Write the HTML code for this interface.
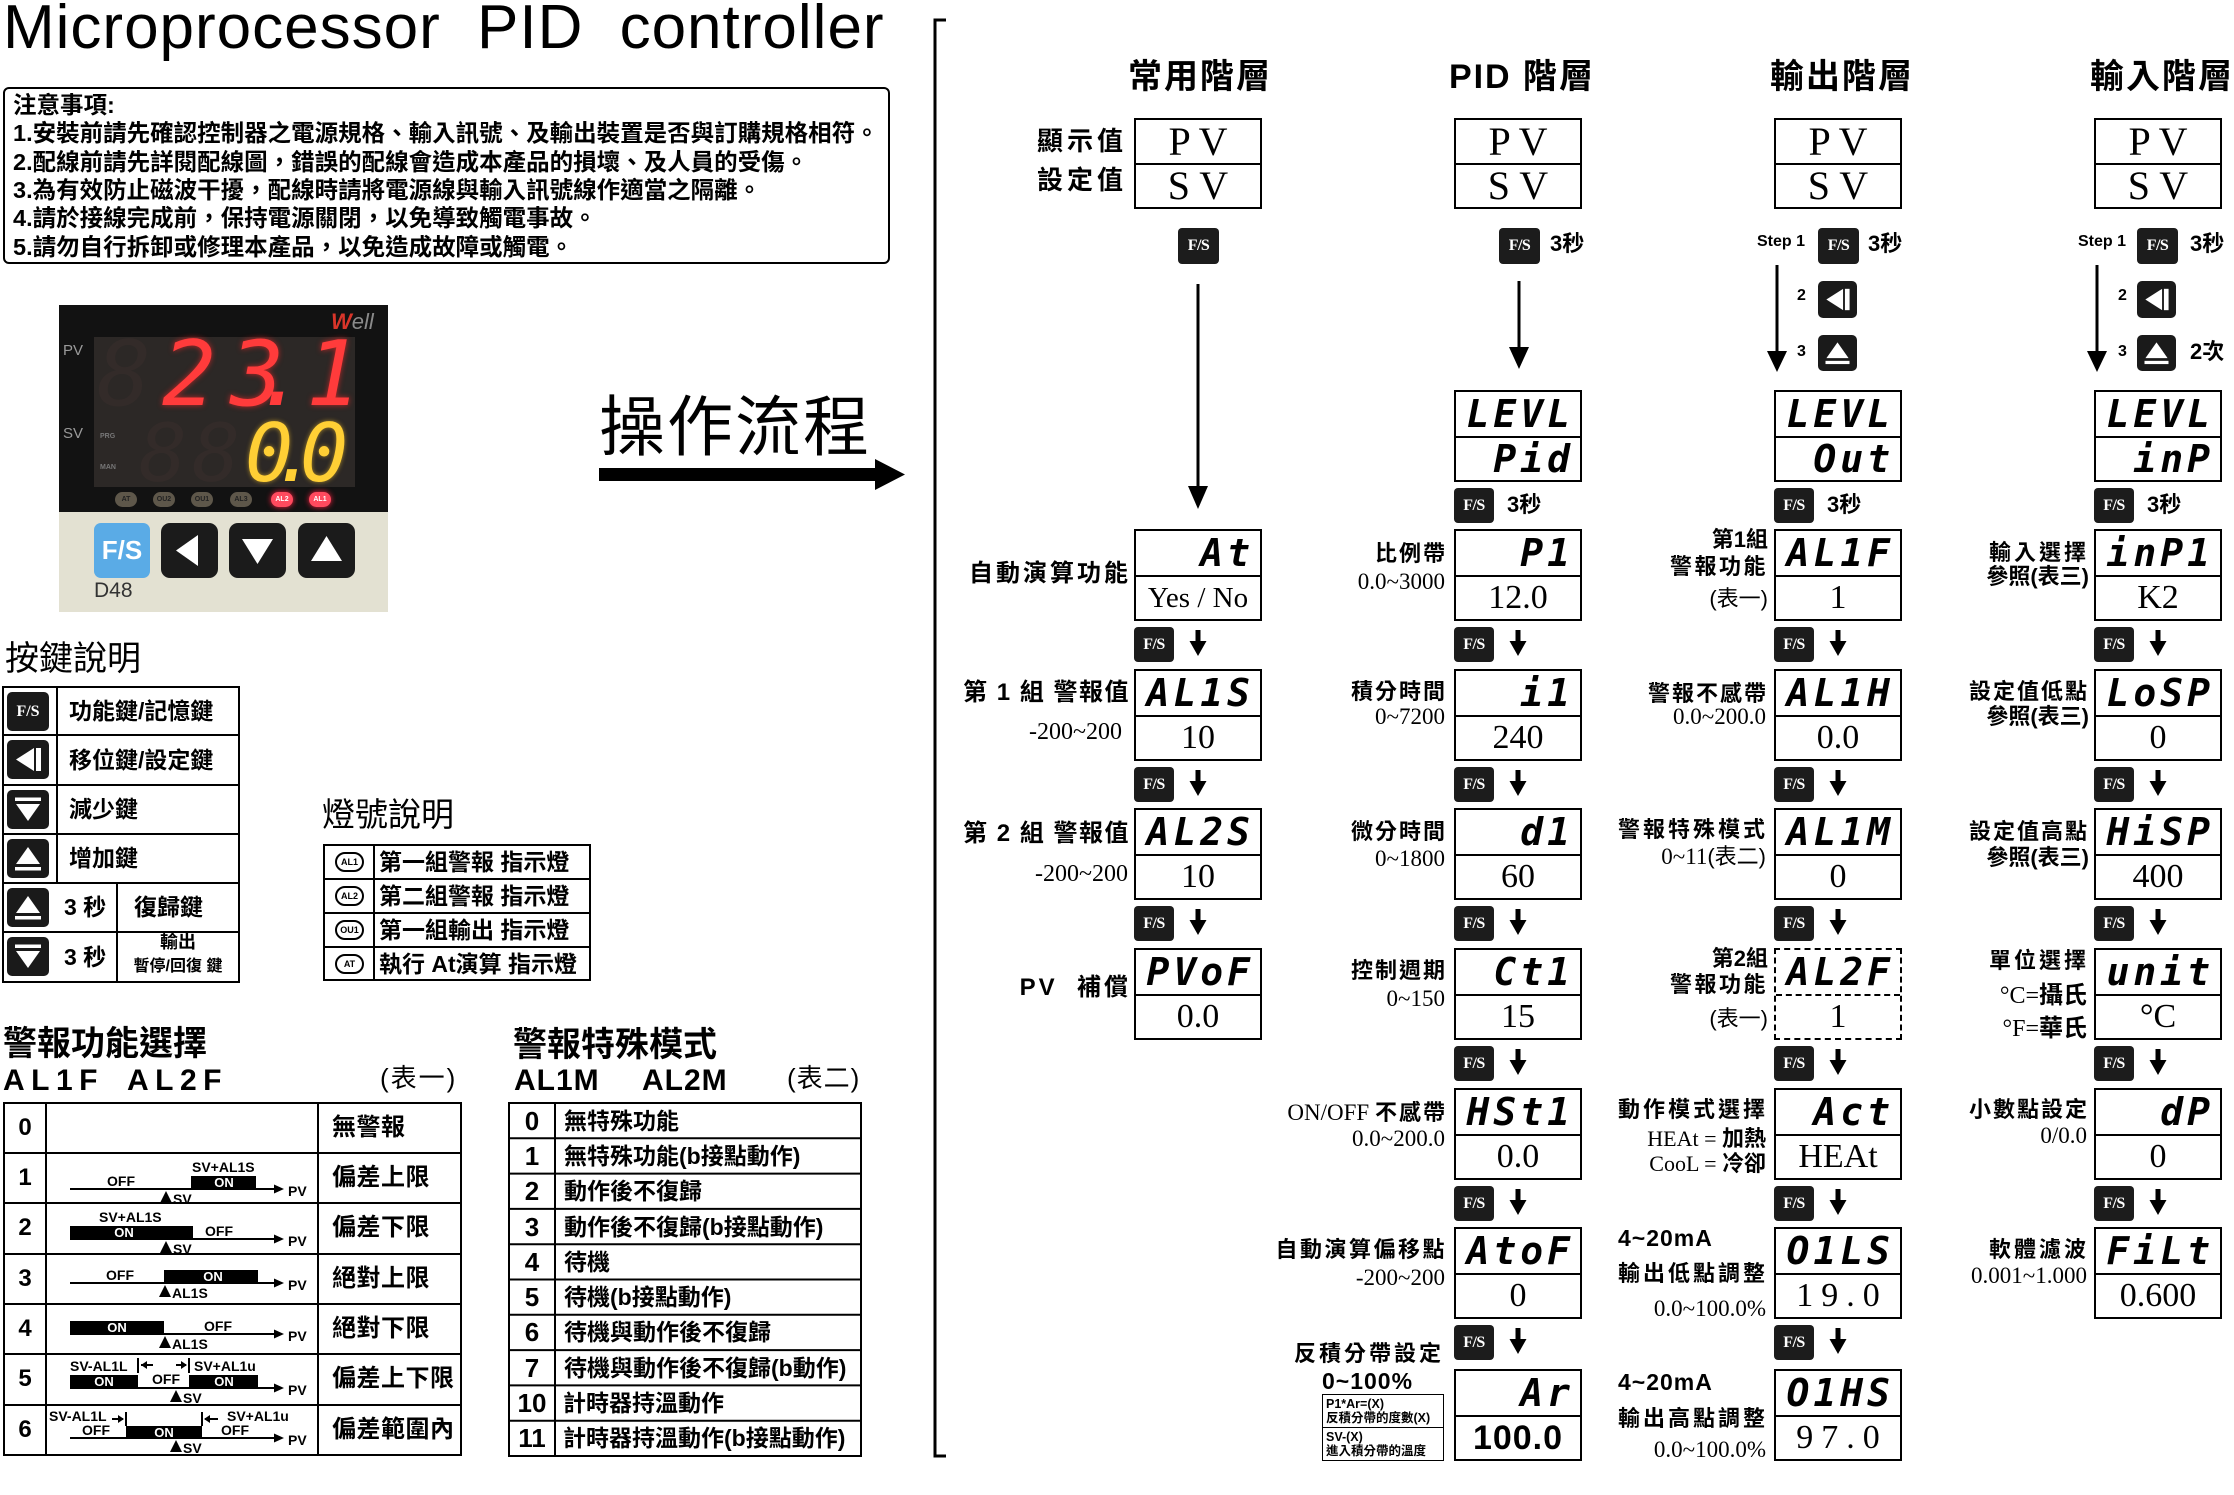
<!DOCTYPE html>
<html><head><meta charset="utf-8">
<style>
*{margin:0;padding:0;box-sizing:border-box}
html,body{width:2234px;height:1495px}
body{position:relative;overflow:hidden;background:#fff;color:#000;font-family:"Liberation Sans","Noto Sans CJK TC",sans-serif}
.a{position:absolute;white-space:nowrap}
.cj{font-family:"Liberation Sans","Noto Sans CJK TC",sans-serif;font-weight:700}
.box{position:absolute;width:128px;height:92px;border:2px solid #000}
.t{height:46px;border-bottom:2px solid #000;font-family:"DejaVu Sans Mono",monospace;font-weight:700;font-style:oblique;font-size:38px;line-height:44px;text-align:right;padding-right:6px;letter-spacing:4px;white-space:nowrap;overflow:hidden}
.t2{border-bottom:0;height:42px;line-height:42px}
.v{height:42px;font-family:"Liberation Serif",serif;font-size:34px;line-height:42px;text-align:center;white-space:nowrap}
.pt{height:45px;border-bottom:2px solid #000;font-family:"Liberation Serif",serif;font-size:40px;line-height:44px;text-align:center}
.pb{height:42px;font-family:"Liberation Serif",serif;font-size:40px;line-height:42px;text-align:center}
.fs{position:absolute;width:40px;height:35px;background:#1c1c1c;border-radius:4px;color:#fff;font-family:"Liberation Serif",serif;font-weight:700;font-size:16px;line-height:35px;text-align:center;letter-spacing:-0.5px}
.big{width:41px;height:36px;line-height:36px}
.lb{position:absolute;white-space:nowrap;text-align:right;font-weight:700;font-size:22px;line-height:28px;letter-spacing:2px}
.rg{position:absolute;white-space:nowrap;text-align:right;font-family:"Liberation Serif",serif;font-size:23px;line-height:26px}
.hd{position:absolute;white-space:nowrap;text-align:center;font-weight:700;font-size:34px;line-height:40px;letter-spacing:2px;width:200px}
.s3{position:absolute;font-weight:700;font-size:22px;line-height:26px;white-space:nowrap}
.st{position:absolute;font-weight:700;font-size:16px;line-height:20px;white-space:nowrap}
.ic{position:absolute;background:#1a1a1a;border-radius:5px}
.ic svg{display:block;width:100%;height:100%}
.kt{position:absolute;white-space:nowrap;font-weight:700;font-size:23px;line-height:28px}
.led{position:absolute;width:29px;height:20px;border:2px solid #000;border-radius:10px;font-size:9px;font-weight:700;line-height:16px;text-align:center}
.n1{position:absolute;width:42px;text-align:center;font-weight:700;font-size:24px;line-height:28px}
.n2{position:absolute;width:46px;text-align:center;font-weight:700;font-size:26px;line-height:28px}
.d1{position:absolute;white-space:nowrap;font-weight:700;font-size:24px;line-height:28px;letter-spacing:0.5px}
.d2{position:absolute;white-space:nowrap;font-weight:700;font-size:23px;line-height:28px}
.seg{position:absolute;font-family:"DejaVu Sans Mono",monospace;font-style:oblique;white-space:nowrap}
</style></head><body>

<!-- Title -->
<div class="a" style="left:3px;top:-3px;font-size:62px;line-height:62px;letter-spacing:1px;word-spacing:18px">Microprocessor PID controller</div>

<!-- Notes -->
<div class="a" style="left:3px;top:87px;width:887px;height:177px;border:2px solid #000;border-radius:6px"></div>
<div class="a cj" style="left:13px;top:91px;font-size:23.5px;line-height:28px">注意事項:</div>
<div class="a cj" style="left:13px;top:119px;font-size:23.5px;line-height:28px">1.安裝前請先確認控制器之電源規格、輸入訊號、及輸出裝置是否與訂購規格相符。</div>
<div class="a cj" style="left:13px;top:148px;font-size:23.5px;line-height:28px">2.配線前請先詳閱配線圖，錯誤的配線會造成本產品的損壞、及人員的受傷。</div>
<div class="a cj" style="left:13px;top:176px;font-size:23.5px;line-height:28px">3.為有效防止磁波干擾，配線時請將電源線與輸入訊號線作適當之隔離。</div>
<div class="a cj" style="left:13px;top:204px;font-size:23.5px;line-height:28px">4.請於接線完成前，保持電源關閉，以免導致觸電事故。</div>
<div class="a cj" style="left:13px;top:233px;font-size:23.5px;line-height:28px">5.請勿自行拆卸或修理本產品，以免造成故障或觸電。</div>

<!-- Device photo -->
<div class="a" style="left:59px;top:305px;width:329px;height:307px;background:#121212;overflow:hidden">
 <div class="a" style="left:35px;top:32px;width:261px;height:150px;background:#2c2826"></div>
 <div class="a" style="left:4px;top:38px;font-size:15px;color:#9a9a9a;line-height:16px">PV</div>
 <div class="a" style="left:4px;top:121px;font-size:15px;color:#9a9a9a;line-height:16px">SV</div>
 <div class="a" style="left:41px;top:128px;font-size:7px;color:#777;font-weight:700">PRG</div>
 <div class="a" style="left:41px;top:159px;font-size:7px;color:#777;font-weight:700">MAN</div>
 <div class="seg" style="left:38px;top:25px;font-size:90px;line-height:90px;color:#332b29">8</div>
 <div class="seg" style="left:80px;top:109px;font-size:80px;line-height:80px;color:#332b29;letter-spacing:5px">88</div>
 <div class="seg" style="left:103px;top:25px;font-size:90px;line-height:90px;color:#ff3b3b;text-shadow:0 0 6px rgba(255,40,40,.7)">2</div>
 <div class="seg" style="left:171px;top:25px;font-size:90px;line-height:90px;color:#ff3b3b;text-shadow:0 0 6px rgba(255,40,40,.7)">3</div>
 <div class="seg" style="left:195px;top:25px;font-size:90px;line-height:90px;color:#ff3b3b">.</div>
 <div class="seg" style="left:247px;top:25px;font-size:90px;line-height:90px;color:#ff3b3b;text-shadow:0 0 6px rgba(255,40,40,.7)">1</div>
 <div class="seg" style="left:186px;top:109px;font-size:80px;line-height:80px;color:#ffcf35;text-shadow:0 0 5px rgba(255,200,40,.6)">0</div>
 <div class="seg" style="left:212px;top:109px;font-size:80px;line-height:80px;color:#ffcf35">.</div>
 <div class="seg" style="left:241px;top:109px;font-size:80px;line-height:80px;color:#ffcf35;text-shadow:0 0 5px rgba(255,200,40,.6)">0</div>
 <div class="a" style="left:272px;top:5px;font-size:22px;font-style:italic;line-height:24px"><span style="color:#d8352a;font-weight:700">W</span><span style="color:#8a8a8a">ell</span></div>
 <div class="a" style="left:56px;top:187px;width:22px;height:15px;border-radius:8px;background:#5e574a;font-size:7px;color:#222;text-align:center;line-height:15px;font-weight:700">AT</div>
 <div class="a" style="left:94px;top:187px;width:22px;height:15px;border-radius:8px;background:#5e574a;font-size:7px;color:#222;text-align:center;line-height:15px;font-weight:700">OU2</div>
 <div class="a" style="left:132px;top:187px;width:22px;height:15px;border-radius:8px;background:#5e574a;font-size:7px;color:#222;text-align:center;line-height:15px;font-weight:700">OU1</div>
 <div class="a" style="left:171px;top:187px;width:22px;height:15px;border-radius:8px;background:#5e574a;font-size:7px;color:#222;text-align:center;line-height:15px;font-weight:700">AL3</div>
 <div class="a" style="left:212px;top:187px;width:22px;height:15px;border-radius:8px;background:#ff4a5e;box-shadow:0 0 6px #ff2040;font-size:7px;color:#fff;text-align:center;line-height:15px;font-weight:700">AL2</div>
 <div class="a" style="left:250px;top:187px;width:22px;height:15px;border-radius:8px;background:#ff4a5e;box-shadow:0 0 6px #ff2040;font-size:7px;color:#fff;text-align:center;line-height:15px;font-weight:700">AL1</div>
 <div class="a" style="left:0;top:207px;width:329px;height:100px;background:#e3e1d2"></div>
 <div class="a" style="left:35px;top:218px;width:56px;height:55px;background:#5aabe6;border-radius:7px;color:#fff;font-weight:700;font-size:26px;line-height:55px;text-align:center">F/S</div>
 <div class="a" style="left:102px;top:218px;width:57px;height:55px;background:#1b1b1b;border-radius:9px"><svg width="57" height="55"><polygon points="15,27.5 37,12 37,43" fill="#fff"/></svg></div>
 <div class="a" style="left:170px;top:218px;width:57px;height:55px;background:#1b1b1b;border-radius:9px"><svg width="57" height="55"><polygon points="13,16 44,16 28.5,41" fill="#fff"/></svg></div>
 <div class="a" style="left:239px;top:218px;width:57px;height:55px;background:#1b1b1b;border-radius:9px"><svg width="57" height="55"><polygon points="13,38 44,38 28.5,13" fill="#fff"/></svg></div>
 <div class="a" style="left:35px;top:274px;font-size:21px;color:#333;line-height:24px">D48</div>
</div>

<!-- 操作流程 -->
<div class="a" style="left:599px;top:394px;font-size:66px;line-height:66px;letter-spacing:2px">操作流程</div>

<!-- 按鍵說明 -->
<div class="a" style="left:5px;top:639px;font-size:34px;line-height:40px">按鍵說明</div>
<div class="ic" style="left:7px;top:692px;width:42px;height:39px;color:#fff;font-family:'Liberation Serif',serif;font-weight:700;font-size:16px;line-height:39px;text-align:center">F/S</div>
<div class="ic" style="left:7px;top:740px;width:42px;height:39px"><svg viewBox="0 0 42 39"><polygon points="9,19.5 27,8 27,31" fill="#fff"/><rect x="29" y="8" width="5" height="23" fill="#fff"/></svg></div>
<div class="ic" style="left:7px;top:790px;width:42px;height:39px"><svg viewBox="0 0 42 39"><rect x="8" y="7.5" width="26" height="3.5" fill="#fff"/><polygon points="9,14 33,14 21,31" fill="#fff"/></svg></div>
<div class="ic" style="left:7px;top:839px;width:42px;height:39px"><svg viewBox="0 0 42 39"><polygon points="21,8 33,25 9,25" fill="#fff"/><rect x="8" y="28" width="26" height="3.5" fill="#fff"/></svg></div>
<div class="ic" style="left:7px;top:888px;width:42px;height:39px"><svg viewBox="0 0 42 39"><polygon points="21,8 33,25 9,25" fill="#fff"/><rect x="8" y="28" width="26" height="3.5" fill="#fff"/></svg></div>
<div class="ic" style="left:7px;top:937px;width:42px;height:39px"><svg viewBox="0 0 42 39"><rect x="8" y="7.5" width="26" height="3.5" fill="#fff"/><polygon points="9,14 33,14 21,31" fill="#fff"/></svg></div>
<div class="kt" style="left:69px;top:697px">功能鍵/記憶鍵</div>
<div class="kt" style="left:69px;top:746px">移位鍵/設定鍵</div>
<div class="kt" style="left:69px;top:795px">減少鍵</div>
<div class="kt" style="left:69px;top:844px">增加鍵</div>
<div class="kt" style="left:64px;top:893px">3 秒</div>
<div class="kt" style="left:134px;top:893px">復歸鍵</div>
<div class="kt" style="left:64px;top:943px">3 秒</div>
<div class="a cj" style="left:117px;width:122px;text-align:center;top:931px;font-size:18px;line-height:22px">輸出</div>
<div class="a cj" style="left:117px;width:122px;text-align:center;top:957px;font-size:16px;line-height:20px">暫停/回復 鍵</div>

<!-- 燈號說明 -->
<div class="a" style="left:322px;top:795px;font-size:33px;line-height:40px">燈號說明</div>
<div class="led" style="left:335px;top:852px">AL1</div>
<div class="led" style="left:335px;top:886px">AL2</div>
<div class="led" style="left:335px;top:920px">OU1</div>
<div class="led" style="left:335px;top:954px">AT</div>
<div class="kt" style="left:379px;top:848px">第一組警報 指示燈</div>
<div class="kt" style="left:379px;top:882px">第二組警報 指示燈</div>
<div class="kt" style="left:379px;top:916px">第一組輸出 指示燈</div>
<div class="kt" style="left:379px;top:950px">執行 At演算 指示燈</div>

<!-- 表一 -->
<div class="a cj" style="left:3px;top:1024px;font-size:34px;line-height:40px">警報功能選擇</div>
<div class="a" style="left:3px;top:1065px;font-size:30px;line-height:32px;font-weight:700;letter-spacing:6.5px">AL1F</div>
<div class="a" style="left:127px;top:1065px;font-size:30px;line-height:32px;font-weight:700;letter-spacing:6.5px">AL2F</div>
<div class="a" style="left:380px;top:1063px;font-size:26px;line-height:30px;letter-spacing:2px">(表一)</div>
<div class="n1" style="left:4px;top:1114px">0</div>
<div class="n1" style="left:4px;top:1164px">1</div>
<div class="n1" style="left:4px;top:1214px">2</div>
<div class="n1" style="left:4px;top:1265px">3</div>
<div class="n1" style="left:4px;top:1315px">4</div>
<div class="n1" style="left:4px;top:1365px">5</div>
<div class="n1" style="left:4px;top:1416px">6</div>
<div class="d1" style="left:332px;top:1114px">無警報</div>
<div class="d1" style="left:332px;top:1164px">偏差上限</div>
<div class="d1" style="left:332px;top:1214px">偏差下限</div>
<div class="d1" style="left:332px;top:1265px">絕對上限</div>
<div class="d1" style="left:332px;top:1315px">絕對下限</div>
<div class="d1" style="left:332px;top:1365px">偏差上下限</div>
<div class="d1" style="left:332px;top:1416px">偏差範圍內</div>

<!-- 表二 -->
<div class="a cj" style="left:513px;top:1025px;font-size:34px;line-height:40px">警報特殊模式</div>
<div class="a" style="left:514px;top:1065px;font-size:30px;line-height:32px;font-weight:700;letter-spacing:1px">AL1M</div>
<div class="a" style="left:642px;top:1065px;font-size:30px;line-height:32px;font-weight:700;letter-spacing:1px">AL2M</div>
<div class="a" style="left:787px;top:1063px;font-size:26px;line-height:30px;letter-spacing:1px">(表二)</div>
<div class="n2" style="left:509px;top:1107px">0</div>
<div class="n2" style="left:509px;top:1142px">1</div>
<div class="n2" style="left:509px;top:1177px">2</div>
<div class="n2" style="left:509px;top:1213px">3</div>
<div class="n2" style="left:509px;top:1248px">4</div>
<div class="n2" style="left:509px;top:1283px">5</div>
<div class="n2" style="left:509px;top:1318px">6</div>
<div class="n2" style="left:509px;top:1354px">7</div>
<div class="n2" style="left:509px;top:1389px">10</div>
<div class="n2" style="left:509px;top:1424px">11</div>
<div class="d2" style="left:564px;top:1107px">無特殊功能</div>
<div class="d2" style="left:564px;top:1142px">無特殊功能(b接點動作)</div>
<div class="d2" style="left:564px;top:1177px">動作後不復歸</div>
<div class="d2" style="left:564px;top:1213px">動作後不復歸(b接點動作)</div>
<div class="d2" style="left:564px;top:1248px">待機</div>
<div class="d2" style="left:564px;top:1283px">待機(b接點動作)</div>
<div class="d2" style="left:564px;top:1318px">待機與動作後不復歸</div>
<div class="d2" style="left:564px;top:1354px">待機與動作後不復歸(b動作)</div>
<div class="d2" style="left:563px;top:1389px">計時器持溫動作</div>
<div class="d2" style="left:563px;top:1424px">計時器持溫動作(b接點動作)</div>

<!-- ========== 常用階層 ========== -->
<div class="hd" style="left:1100px;top:57px">常用階層</div>
<div class="box" style="left:1134px;top:118px;height:91px"><div class="pt">P V</div><div class="pb">S V</div></div>
<div class="lb" style="right:1107px;top:127px;font-size:26px;letter-spacing:4px">顯示值</div>
<div class="lb" style="right:1107px;top:166px;font-size:26px;letter-spacing:4px">設定值</div>
<div class="fs big" style="left:1178px;top:228px">F/S</div>
<div class="box" style="left:1134px;top:529px"><div class="t">At</div><div class="v" style="font-size:29px">Yes / No</div></div>
<div class="box" style="left:1134px;top:669px"><div class="t">AL1S</div><div class="v">10</div></div>
<div class="box" style="left:1134px;top:808px"><div class="t">AL2S</div><div class="v">10</div></div>
<div class="box" style="left:1134px;top:948px"><div class="t">PVoF</div><div class="v">0.0</div></div>
<div class="fs" style="left:1134px;top:627px">F/S</div>
<div class="fs" style="left:1134px;top:767px">F/S</div>
<div class="fs" style="left:1134px;top:906px">F/S</div>
<div class="lb" style="right:1103px;top:560px;font-size:24px;letter-spacing:3px">自動演算功能</div>
<div class="lb" style="right:1104px;top:679px;font-size:24px;letter-spacing:1.5px">第 1 組 警報值</div>
<div class="rg" style="right:1112px;top:719px;font-size:24px">-200~200</div>
<div class="lb" style="right:1104px;top:820px;font-size:24px;letter-spacing:1.5px">第 2 組 警報值</div>
<div class="rg" style="right:1106px;top:861px;font-size:24px">-200~200</div>
<div class="lb" style="right:1103px;top:974px;font-size:24px;letter-spacing:3px">PV&nbsp; 補償</div>

<!-- ========== PID 階層 ========== -->
<div class="hd" style="left:1422px;top:57px">PID 階層</div>
<div class="box" style="left:1454px;top:118px;height:91px"><div class="pt">P V</div><div class="pb">S V</div></div>
<div class="fs big" style="left:1499px;top:228px">F/S</div>
<div class="s3" style="left:1550px;top:231px">3秒</div>
<div class="box" style="left:1454px;top:390px"><div class="t">LEVL</div><div class="t t2">Pid</div></div>
<div class="fs" style="left:1454px;top:488px">F/S</div>
<div class="s3" style="left:1507px;top:492px">3秒</div>
<div class="box" style="left:1454px;top:529px"><div class="t">P1</div><div class="v">12.0</div></div>
<div class="box" style="left:1454px;top:669px"><div class="t">i1</div><div class="v">240</div></div>
<div class="box" style="left:1454px;top:808px"><div class="t">d1</div><div class="v">60</div></div>
<div class="box" style="left:1454px;top:948px"><div class="t">Ct1</div><div class="v">15</div></div>
<div class="box" style="left:1454px;top:1088px"><div class="t">HSt1</div><div class="v">0.0</div></div>
<div class="box" style="left:1454px;top:1227px"><div class="t">AtoF</div><div class="v">0</div></div>
<div class="box" style="left:1454px;top:1369px"><div class="t">Ar</div><div class="v" style="font-family:'Liberation Sans',sans-serif;font-weight:700;letter-spacing:1px">100.0</div></div>
<div class="fs" style="left:1454px;top:627px">F/S</div>
<div class="fs" style="left:1454px;top:767px">F/S</div>
<div class="fs" style="left:1454px;top:906px">F/S</div>
<div class="fs" style="left:1454px;top:1046px">F/S</div>
<div class="fs" style="left:1454px;top:1186px">F/S</div>
<div class="fs" style="left:1454px;top:1325px">F/S</div>
<div class="lb" style="right:787px;top:540px">比例帶</div>
<div class="rg" style="right:789px;top:569px">0.0~3000</div>
<div class="lb" style="right:787px;top:678px">積分時間</div>
<div class="rg" style="right:789px;top:704px">0~7200</div>
<div class="lb" style="right:787px;top:818px">微分時間</div>
<div class="rg" style="right:789px;top:846px">0~1800</div>
<div class="lb" style="right:787px;top:957px">控制週期</div>
<div class="rg" style="right:789px;top:986px">0~150</div>
<div class="lb" style="right:787px;top:1099px"><span style="font-family:'Liberation Serif',serif;font-weight:400;font-size:23px;letter-spacing:0">ON/OFF </span>不感帶</div>
<div class="rg" style="right:789px;top:1126px">0.0~200.0</div>
<div class="lb" style="right:787px;top:1236px;letter-spacing:2.5px">自動演算偏移點</div>
<div class="rg" style="right:789px;top:1265px">-200~200</div>
<div class="lb" style="right:790px;top:1340px;letter-spacing:3px">反積分帶設定</div>
<div class="a" style="left:1322px;top:1369px;font-weight:700;font-size:23px;line-height:24px;letter-spacing:1px">0~100%</div>
<div class="a" style="left:1322px;top:1394px;width:122px;height:67px;border:1.5px solid #000">
 <div style="height:33px;border-bottom:1.5px solid #000;font-weight:700;font-size:12.5px;line-height:14px;padding:2px 0 0 3px">P1*Ar=(X)<br>反積分帶的度數(X)</div>
 <div style="font-weight:700;font-size:12.5px;line-height:14px;padding:2px 0 0 3px">SV-(X)<br>進入積分帶的溫度</div>
</div>

<!-- ========== 輸出階層 ========== -->
<div class="hd" style="left:1742px;top:57px">輸出階層</div>
<div class="box" style="left:1774px;top:118px;height:91px"><div class="pt">P V</div><div class="pb">S V</div></div>
<div class="st" style="right:429px;top:232px">Step 1</div>
<div class="fs big" style="left:1818px;top:228px">F/S</div>
<div class="s3" style="left:1868px;top:231px">3秒</div>
<div class="st" style="left:1797px;top:286px">2</div>
<div class="ic" style="left:1818px;top:281px;width:39px;height:37px"><svg viewBox="0 0 42 39"><polygon points="9,19.5 27,8 27,31" fill="#fff"/><rect x="29" y="8" width="5" height="23" fill="#fff"/></svg></div>
<div class="st" style="left:1797px;top:342px">3</div>
<div class="ic" style="left:1818px;top:335px;width:39px;height:36px"><svg viewBox="0 0 42 39"><polygon points="21,8 33,25 9,25" fill="#fff"/><rect x="8" y="28" width="26" height="3.5" fill="#fff"/></svg></div>
<div class="box" style="left:1774px;top:390px"><div class="t">LEVL</div><div class="t t2">Out</div></div>
<div class="fs" style="left:1774px;top:488px">F/S</div>
<div class="s3" style="left:1827px;top:492px">3秒</div>
<div class="box" style="left:1774px;top:529px"><div class="t">AL1F</div><div class="v">1</div></div>
<div class="box" style="left:1774px;top:669px"><div class="t">AL1H</div><div class="v">0.0</div></div>
<div class="box" style="left:1774px;top:808px"><div class="t">AL1M</div><div class="v">0</div></div>
<div class="box" style="left:1774px;top:948px;border-style:dashed"><div class="t" style="border-bottom-style:dashed">AL2F</div><div class="v">1</div></div>
<div class="box" style="left:1774px;top:1088px"><div class="t">Act</div><div class="v">HEAt</div></div>
<div class="box" style="left:1774px;top:1227px"><div class="t">O1LS</div><div class="v" style="letter-spacing:8px;padding-left:8px">19.0</div></div>
<div class="box" style="left:1774px;top:1369px"><div class="t">O1HS</div><div class="v" style="letter-spacing:8px;padding-left:8px">97.0</div></div>
<div class="fs" style="left:1774px;top:627px">F/S</div>
<div class="fs" style="left:1774px;top:767px">F/S</div>
<div class="fs" style="left:1774px;top:906px">F/S</div>
<div class="fs" style="left:1774px;top:1046px">F/S</div>
<div class="fs" style="left:1774px;top:1186px">F/S</div>
<div class="fs" style="left:1774px;top:1325px">F/S</div>
<div class="lb" style="right:466px;top:526px;letter-spacing:0">第1組</div>
<div class="lb" style="right:466px;top:553px;letter-spacing:2.5px">警報功能</div>
<div class="lb" style="right:466px;top:585px;letter-spacing:0;font-weight:400">(表一)</div>
<div class="lb" style="right:466px;top:680px;letter-spacing:2px">警報不感帶</div>
<div class="rg" style="right:468px;top:704px">0.0~200.0</div>
<div class="lb" style="right:466px;top:816px;letter-spacing:3px">警報特殊模式</div>
<div class="rg" style="right:468px;top:844px">0~11<span style="font-family:'Liberation Sans','Noto Sans CJK TC',sans-serif;font-size:22px">(表二)</span></div>
<div class="lb" style="right:466px;top:945px;letter-spacing:0">第2組</div>
<div class="lb" style="right:466px;top:971px;letter-spacing:2.5px">警報功能</div>
<div class="lb" style="right:466px;top:1005px;letter-spacing:0;font-weight:400">(表一)</div>
<div class="lb" style="right:466px;top:1096px;letter-spacing:3px">動作模式選擇</div>
<div class="rg" style="right:468px;top:1126px;font-size:22px">HEAt = <span class="cj">加熱</span></div>
<div class="rg" style="right:468px;top:1151px;font-size:22px">CooL = <span class="cj">冷卻</span></div>
<div class="a" style="left:1618px;top:1226px;font-weight:700;font-size:23px;line-height:24px;letter-spacing:1px">4~20mA</div>
<div class="lb" style="right:466px;top:1260px;letter-spacing:3px">輸出低點調整</div>
<div class="rg" style="right:468px;top:1296px">0.0~100.0%</div>
<div class="a" style="left:1618px;top:1370px;font-weight:700;font-size:23px;line-height:24px;letter-spacing:1px">4~20mA</div>
<div class="lb" style="right:466px;top:1405px;letter-spacing:3px">輸出高點調整</div>
<div class="rg" style="right:468px;top:1437px">0.0~100.0%</div>

<!-- ========== 輸入階層 ========== -->
<div class="hd" style="left:2062px;top:57px">輸入階層</div>
<div class="box" style="left:2094px;top:118px;height:91px"><div class="pt">P V</div><div class="pb">S V</div></div>
<div class="st" style="right:108px;top:232px">Step 1</div>
<div class="fs big" style="left:2137px;top:228px">F/S</div>
<div class="s3" style="left:2190px;top:231px">3秒</div>
<div class="st" style="left:2118px;top:286px">2</div>
<div class="ic" style="left:2137px;top:281px;width:39px;height:37px"><svg viewBox="0 0 42 39"><polygon points="9,19.5 27,8 27,31" fill="#fff"/><rect x="29" y="8" width="5" height="23" fill="#fff"/></svg></div>
<div class="st" style="left:2118px;top:342px">3</div>
<div class="ic" style="left:2137px;top:335px;width:39px;height:36px"><svg viewBox="0 0 42 39"><polygon points="21,8 33,25 9,25" fill="#fff"/><rect x="8" y="28" width="26" height="3.5" fill="#fff"/></svg></div>
<div class="s3" style="left:2190px;top:339px">2次</div>
<div class="box" style="left:2094px;top:390px"><div class="t">LEVL</div><div class="t t2">inP</div></div>
<div class="fs" style="left:2094px;top:488px">F/S</div>
<div class="s3" style="left:2147px;top:492px">3秒</div>
<div class="box" style="left:2094px;top:529px"><div class="t">inP1</div><div class="v">K2</div></div>
<div class="box" style="left:2094px;top:669px"><div class="t">LoSP</div><div class="v">0</div></div>
<div class="box" style="left:2094px;top:808px"><div class="t">HiSP</div><div class="v">400</div></div>
<div class="box" style="left:2094px;top:948px"><div class="t">unit</div><div class="v">°C</div></div>
<div class="box" style="left:2094px;top:1088px"><div class="t">dP</div><div class="v">0</div></div>
<div class="box" style="left:2094px;top:1227px"><div class="t">FiLt</div><div class="v">0.600</div></div>
<div class="fs" style="left:2094px;top:627px">F/S</div>
<div class="fs" style="left:2094px;top:767px">F/S</div>
<div class="fs" style="left:2094px;top:906px">F/S</div>
<div class="fs" style="left:2094px;top:1046px">F/S</div>
<div class="fs" style="left:2094px;top:1186px">F/S</div>
<div class="lb" style="right:145px;top:539px;letter-spacing:3px">輸入選擇</div>
<div class="lb" style="right:145px;top:563px;letter-spacing:0">參照(表三)</div>
<div class="lb" style="right:145px;top:678px;letter-spacing:2px">設定值低點</div>
<div class="lb" style="right:145px;top:703px;letter-spacing:0">參照(表三)</div>
<div class="lb" style="right:145px;top:818px;letter-spacing:2px">設定值高點</div>
<div class="lb" style="right:145px;top:844px;letter-spacing:0">參照(表三)</div>
<div class="lb" style="right:145px;top:947px;letter-spacing:3px">單位選擇</div>
<div class="rg" style="right:147px;top:983px;font-size:24px">°C=<span class="cj">攝氏</span></div>
<div class="rg" style="right:147px;top:1016px;font-size:24px">°F=<span class="cj">華氏</span></div>
<div class="lb" style="right:145px;top:1096px;letter-spacing:2px">小數點設定</div>
<div class="rg" style="right:147px;top:1123px">0/0.0</div>
<div class="lb" style="right:145px;top:1236px;letter-spacing:3px">軟體濾波</div>
<div class="rg" style="right:147px;top:1263px">0.001~1.000</div>

<!-- ========== Lines, arrows, tables, diagrams ========== -->
<svg class="a" style="left:0;top:0" width="2234" height="1495" viewBox="0 0 2234 1495">
 <path d="M946 20H935V1456H946" fill="none" stroke="#000" stroke-width="3"/>
 <rect x="599" y="468" width="277" height="13"/>
 <polygon points="875,459 905,474.5 875,490"/>
 <g stroke="#000" stroke-width="3">
  <line x1="1198" y1="284" x2="1198" y2="492"/>
  <line x1="1519" y1="281" x2="1519" y2="352"/>
  <line x1="1777" y1="265" x2="1777" y2="356"/>
  <line x1="2097" y1="265" x2="2097" y2="356"/>
 </g>
 <polygon points="1188,486 1208,486 1198,509"/>
 <polygon points="1509,347 1529,347 1519,369"/>
 <polygon points="1767,351 1787,351 1777,372"/>
 <polygon points="2087,351 2107,351 2097,372"/>
 <g fill="#000">
  <path transform="translate(1198,627)" d="M-2.5 3h5v11h6l-8.5 15l-8.5-15h6z"/>
  <path transform="translate(1198,767)" d="M-2.5 3h5v11h6l-8.5 15l-8.5-15h6z"/>
  <path transform="translate(1198,906)" d="M-2.5 3h5v11h6l-8.5 15l-8.5-15h6z"/>
  <path transform="translate(1518,627)" d="M-2.5 3h5v11h6l-8.5 15l-8.5-15h6z"/>
  <path transform="translate(1518,767)" d="M-2.5 3h5v11h6l-8.5 15l-8.5-15h6z"/>
  <path transform="translate(1518,906)" d="M-2.5 3h5v11h6l-8.5 15l-8.5-15h6z"/>
  <path transform="translate(1518,1046)" d="M-2.5 3h5v11h6l-8.5 15l-8.5-15h6z"/>
  <path transform="translate(1518,1186)" d="M-2.5 3h5v11h6l-8.5 15l-8.5-15h6z"/>
  <path transform="translate(1518,1325)" d="M-2.5 3h5v11h6l-8.5 15l-8.5-15h6z"/>
  <path transform="translate(1838,627)" d="M-2.5 3h5v11h6l-8.5 15l-8.5-15h6z"/>
  <path transform="translate(1838,767)" d="M-2.5 3h5v11h6l-8.5 15l-8.5-15h6z"/>
  <path transform="translate(1838,906)" d="M-2.5 3h5v11h6l-8.5 15l-8.5-15h6z"/>
  <path transform="translate(1838,1046)" d="M-2.5 3h5v11h6l-8.5 15l-8.5-15h6z"/>
  <path transform="translate(1838,1186)" d="M-2.5 3h5v11h6l-8.5 15l-8.5-15h6z"/>
  <path transform="translate(1838,1325)" d="M-2.5 3h5v11h6l-8.5 15l-8.5-15h6z"/>
  <path transform="translate(2158,627)" d="M-2.5 3h5v11h6l-8.5 15l-8.5-15h6z"/>
  <path transform="translate(2158,767)" d="M-2.5 3h5v11h6l-8.5 15l-8.5-15h6z"/>
  <path transform="translate(2158,906)" d="M-2.5 3h5v11h6l-8.5 15l-8.5-15h6z"/>
  <path transform="translate(2158,1046)" d="M-2.5 3h5v11h6l-8.5 15l-8.5-15h6z"/>
  <path transform="translate(2158,1186)" d="M-2.5 3h5v11h6l-8.5 15l-8.5-15h6z"/>
 </g>
 <g stroke="#000" stroke-width="2" fill="none">
  <rect x="3" y="687" width="236" height="295"/>
  <path d="M3 735H239M3 785H239M3 834H239M3 883H239M3 932H239M57 687V883M117 883V982"/>
  <rect x="324" y="845" width="266" height="135"/>
  <path d="M324 879H590M324 913H590M324 947H590M374 845V980"/>
  <rect x="4" y="1103" width="457" height="352"/>
  <path d="M4 1153H461M4 1203H461M4 1254H461M4 1304H461M4 1354H461M4 1405H461M46 1103V1455M318 1103V1455"/>
  <rect x="509" y="1103" width="352" height="353"/>
  <path d="M509 1138.3H861M509 1173.6H861M509 1208.9H861M509 1244.2H861M509 1279.5H861M509 1314.8H861M509 1350.1H861M509 1385.4H861M509 1420.7H861M555 1103V1456"/>
 </g>
 <!-- diagrams -->
 <g stroke="#000" stroke-width="2">
  <line x1="70" y1="1189" x2="276" y2="1189"/>
  <line x1="70" y1="1239" x2="276" y2="1239"/>
  <line x1="70" y1="1283" x2="276" y2="1283"/>
  <line x1="70" y1="1334" x2="276" y2="1334"/>
  <line x1="70" y1="1388" x2="276" y2="1388"/>
  <line x1="70" y1="1438" x2="276" y2="1438"/>
  <path d="M138 1358V1373M141 1365H153M189 1358V1373M176 1365H186" fill="none"/>
  <path d="M126 1412V1426M112 1419H123M202 1412V1426M205 1419H218" fill="none"/>
 </g>
 <g fill="#000">
  <polygon points="274,1184.5 284,1189 274,1193.5"/>
  <polygon points="274,1234.5 284,1239 274,1243.5"/>
  <polygon points="274,1278.5 284,1283 274,1287.5"/>
  <polygon points="274,1329.5 284,1334 274,1338.5"/>
  <polygon points="274,1383.5 284,1388 274,1392.5"/>
  <polygon points="274,1433.5 284,1438 274,1442.5"/>
  <polygon points="141,1365 147,1361 147,1369"/>
  <polygon points="187,1365 181,1361 181,1369"/>
  <polygon points="124,1419 118,1415 118,1423"/>
  <polygon points="204,1419 210,1415 210,1423"/>
  <rect x="191" y="1176" width="65" height="13"/>
  <rect x="70" y="1226" width="123" height="13"/>
  <rect x="164" y="1270" width="94" height="13"/>
  <rect x="70" y="1321" width="94" height="13"/>
  <rect x="70" y="1375" width="68" height="13"/>
  <rect x="189" y="1375" width="69" height="13"/>
  <rect x="126" y="1426" width="76" height="13"/>
  <polygon points="166,1191 160,1203 172,1203"/>
  <polygon points="166,1241 160,1253 172,1253"/>
  <polygon points="165,1285 159,1297 171,1297"/>
  <polygon points="165,1336 159,1348 171,1348"/>
  <polygon points="176,1390 170,1402 182,1402"/>
  <polygon points="176,1440 170,1452 182,1452"/>
 </g>
 <g font-family="Liberation Sans, sans-serif" font-weight="700" font-size="14" fill="#000">
  <text x="288" y="1196">PV</text>
  <text x="288" y="1246">PV</text>
  <text x="288" y="1290">PV</text>
  <text x="288" y="1341">PV</text>
  <text x="288" y="1395">PV</text>
  <text x="288" y="1445">PV</text>
  <text x="107" y="1186">OFF</text>
  <text x="192" y="1172">SV+AL1S</text>
  <text x="173" y="1204">SV</text>
  <text x="99" y="1222">SV+AL1S</text>
  <text x="205" y="1236">OFF</text>
  <text x="173" y="1254">SV</text>
  <text x="106" y="1280">OFF</text>
  <text x="172" y="1298">AL1S</text>
  <text x="204" y="1331">OFF</text>
  <text x="172" y="1349">AL1S</text>
  <text x="70" y="1371">SV-AL1L</text>
  <text x="194" y="1371">SV+AL1u</text>
  <text x="152" y="1384">OFF</text>
  <text x="183" y="1403">SV</text>
  <text x="49" y="1421">SV-AL1L</text>
  <text x="227" y="1421">SV+AL1u</text>
  <text x="82" y="1435">OFF</text>
  <text x="221" y="1435">OFF</text>
  <text x="183" y="1453">SV</text>
 </g>
 <g font-family="Liberation Sans, sans-serif" font-weight="700" font-size="13" fill="#fff" text-anchor="middle">
  <text x="224" y="1187">ON</text>
  <text x="124" y="1237">ON</text>
  <text x="213" y="1281">ON</text>
  <text x="117" y="1332">ON</text>
  <text x="104" y="1386">ON</text>
  <text x="224" y="1386">ON</text>
  <text x="164" y="1437">ON</text>
 </g>
</svg>
</body></html>
